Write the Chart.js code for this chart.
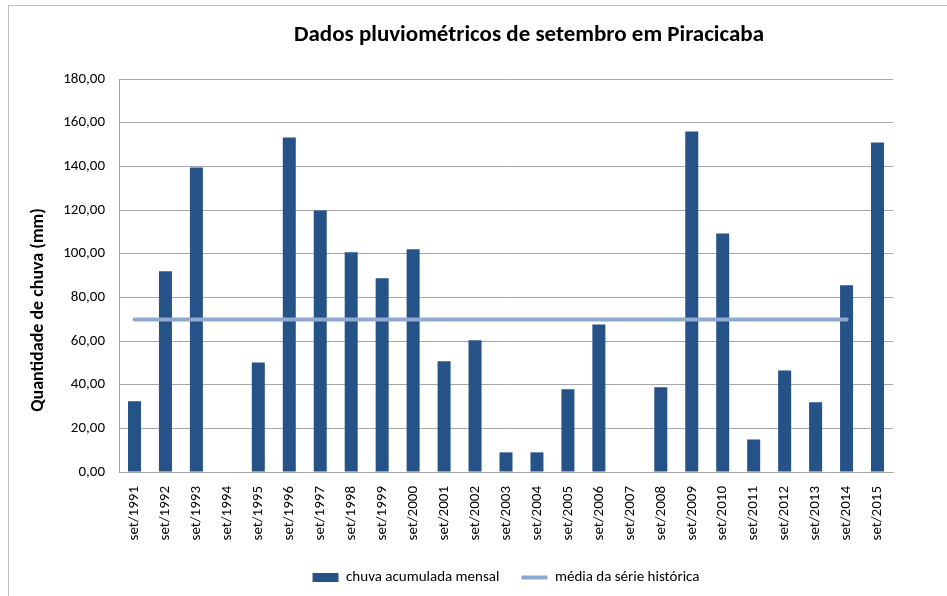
<!DOCTYPE html>
<html>
<head>
<meta charset="utf-8">
<script src="https://cdn.jsdelivr.net/npm/chart.js@4"></script>
<style>
  body { margin: 0; background: #fff; }
  #wrap { position: relative; width: 947px; height: 596px; overflow: hidden; }
  #frame { position: absolute; left: 8px; top: 5px; width: 960px; height: 620px; border: 1px solid #bfbfbf; }
  #myChart { position: absolute; left: 0; top: 0; }
</style>
</head>
<body>
<div id="wrap">
  <div id="frame"></div>
  <canvas id="myChart" width="947" height="596"></canvas>
</div>
<script>
var anos = ["set/1991", "set/1992", "set/1993", "set/1994", "set/1995", "set/1996", "set/1997", "set/1998", "set/1999", "set/2000",
  "set/2001", "set/2002", "set/2003", "set/2004", "set/2005", "set/2006", "set/2007", "set/2008", "set/2009", "set/2010",
  "set/2011", "set/2012", "set/2013", "set/2014", "set/2015"];
var chuva_mensal = [32.4, 91.9, 139.5, 0, 50.2, 153.2, 119.8, 100.6, 88.7, 102.0,
  50.7, 60.3, 9.0, 9.0, 37.9, 67.6, 0, 38.8, 156.0, 109.2,
  14.9, 46.5, 31.9, 85.5, 150.9];
var media_historica = [69.8, 69.8, 69.8, 69.8, 69.8, 69.8, 69.8, 69.8, 69.8, 69.8,
  69.8, 69.8, 69.8, 69.8, 69.8, 69.8, 69.8, 69.8, 69.8, 69.8,
  69.8, 69.8, 69.8, 69.8, null];
var ticks_y = [0, 20, 40, 60, 80, 100, 120, 140, 160, 180];

var fonte = "Carlito, Calibri, Lato, 'Open Sans', sans-serif";
var ctx1 = document.getElementById("myChart");

// titulo e titulo do eixo y desenhados a mao pra ficar na mesma posicao do original
const titulos = {
  id: 'titulos',
  afterDraw(chart) {
    const c = chart.ctx;
    c.save();
    c.fillStyle = '#000';
    c.textAlign = 'center';
    c.textBaseline = 'middle';
    c.font = "bold 23px " + fonte;
    c.fillText('Dados pluviométricos de setembro em Piracicaba', 529, 35);
    c.translate(38, 310);
    c.rotate(-Math.PI / 2);
    c.font = "bold 18px " + fonte;
    c.fillText('Quantidade de chuva (mm)', 0, 0);
    c.restore();
  }
};

const datachart = {
  labels: anos,
  datasets: [
    {
      type: 'bar',
      label: 'chuva acumulada mensal',
      data: chuva_mensal,
      backgroundColor: 'rgb(37, 83, 136)',
      barPercentage: 0.42,
      categoryPercentage: 1,
      pointStyle: 'rect',
      order: 2
    },
    {
      type: 'line',
      label: 'média da série histórica',
      data: media_historica,
      borderColor: 'rgb(143, 168, 207)',
      backgroundColor: 'rgb(143, 168, 207)',
      borderWidth: 4,
      borderCapStyle: 'round',
      pointRadius: 0,
      pointStyle: 'line',
      order: 1
    }
  ]
};

const config = {
  data: datachart,
  plugins: [titulos],
  options: {
    responsive: false,
    animation: false,
    layout: { padding: { left: 0, right: 54, top: 79, bottom: 1 } },
    plugins: {
      legend: {
        position: 'bottom',
        fullSize: false,
        labels: {
          usePointStyle: true,
          pointStyleWidth: 26,
          boxHeight: 9,
          color: '#000',
          font: { family: fonte, size: 15 },
          padding: 22,
          sort: (a, b) => a.datasetIndex - b.datasetIndex
        }
      },
      tooltip: { enabled: false }
    },
    scales: {
      x: {
        grid: { display: false },
        border: { color: '#a6a6a6' },
        ticks: {
          color: '#000',
          font: { family: fonte, size: 15 },
          minRotation: 90,
          maxRotation: 90,
          padding: 6,
          autoSkip: false
        },
        afterFit(scale) { scale.height = 76; }
      },
      y: {
        min: 0,
        max: 180,
        afterBuildTicks(scale) { scale.ticks = ticks_y.map(v => ({ value: v })); },
        grid: { color: '#a6a6a6', drawTicks: false },
        border: { color: '#a6a6a6' },
        ticks: {
          color: '#000',
          font: { family: fonte, size: 15 },
          padding: 14,
          callback: v => v.toFixed(2).replace('.', ',')
        },
        afterFit(scale) { scale.width = 119; }
      }
    }
  }
};
const myChart = new Chart(ctx1, config);
</script>
</body>
</html>
